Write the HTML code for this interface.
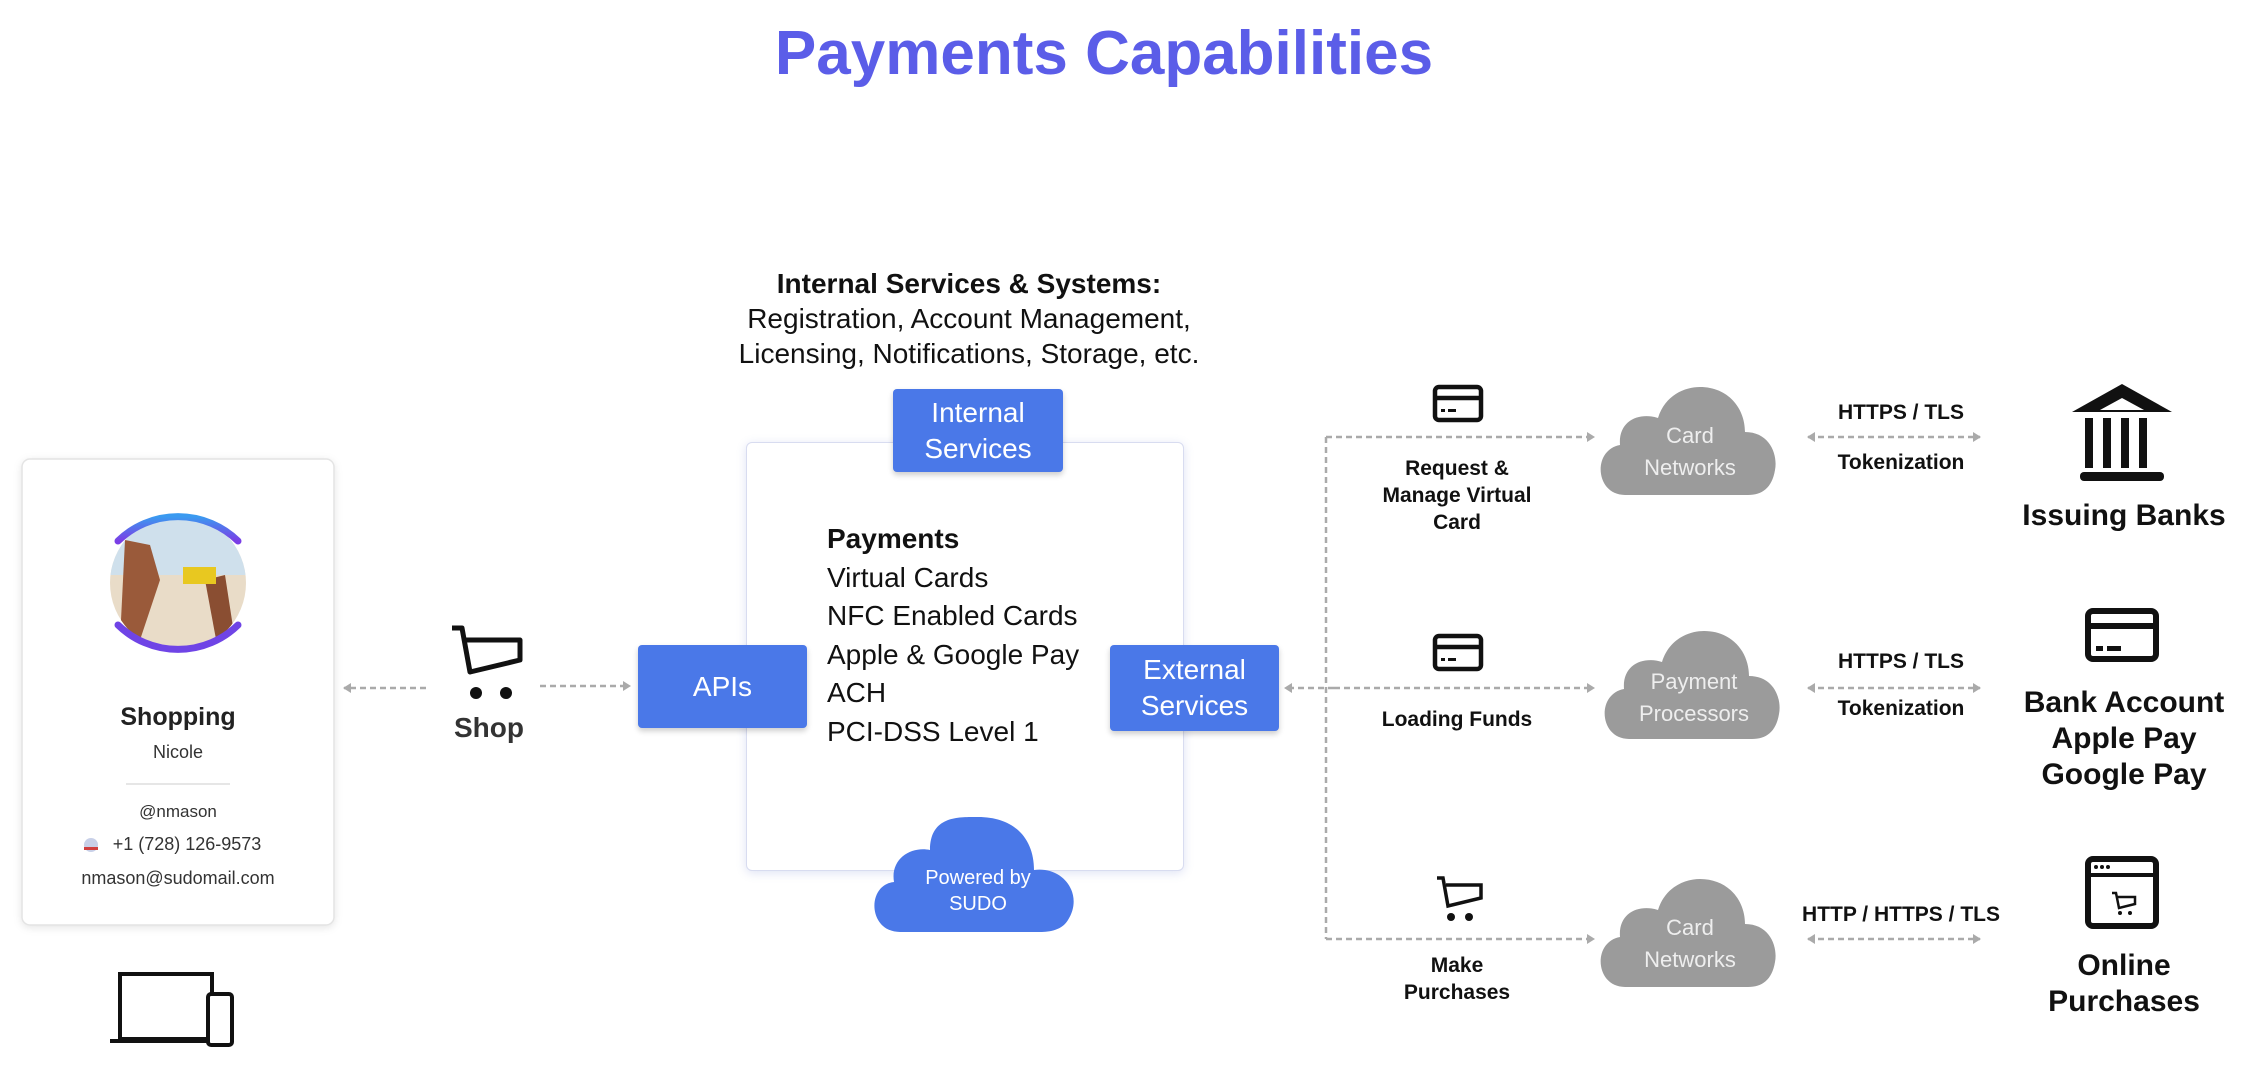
<!DOCTYPE html>
<html><head><meta charset="utf-8"><style>
body{margin:0;width:2248px;height:1084px;background:#fff;position:relative;overflow:hidden;font-family:"Liberation Sans",Arial,sans-serif;}
.a{position:absolute;}
.c{text-align:center;transform:translateX(-50%);white-space:nowrap;}
.box{position:absolute;background:#4a78e8;color:#fff;font-size:28px;display:flex;align-items:center;justify-content:center;text-align:center;line-height:36px;border-radius:4px;box-shadow:0 3px 6px rgba(0,0,0,.2);}
.lbl{position:absolute;font-weight:bold;font-size:21px;color:#111;text-align:center;transform:translateX(-50%);line-height:27px;white-space:nowrap;}
.rl{position:absolute;font-weight:bold;font-size:30px;color:#111;text-align:center;transform:translateX(-50%);line-height:36px;white-space:nowrap;}
</style></head><body>
<div class="a c" style="left:1104px;top:18px;font-size:62px;font-weight:bold;color:#5b5de8;">Payments Capabilities</div>

<div class="a c" style="left:969px;top:266px;font-size:28px;line-height:35px;color:#111;"><b>Internal Services &amp; Systems:</b><br>Registration, Account Management,<br>Licensing, Notifications, Storage, etc.</div>

<!-- main box -->
<div class="a" style="left:746px;top:442px;width:436px;height:427px;border:1px solid #d8dcf0;border-radius:6px;box-shadow:0 2px 10px rgba(90,110,200,.2);background:#fff;"></div>
<div class="box" style="left:893px;top:389px;width:170px;height:83px;">Internal<br>Services</div>
<div class="box" style="left:638px;top:645px;width:169px;height:83px;">APIs</div>
<div class="box" style="left:1110px;top:645px;width:169px;height:86px;">External<br>Services</div>
<div class="a" style="left:827px;top:520px;font-size:28px;line-height:38.5px;color:#111;"><b>Payments</b><br>Virtual Cards<br>NFC Enabled Cards<br>Apple &amp; Google Pay<br>ACH<br>PCI-DSS Level 1</div>

<svg class="a" style="left:0;top:0" width="2248" height="1084">
<defs>
<marker id="ah" markerWidth="10" markerHeight="10" refX="7" refY="5" orient="auto" markerUnits="userSpaceOnUse"><path d="M0,0 L8,5 L0,10z" fill="#aaa"/></marker>
<marker id="at" markerWidth="10" markerHeight="10" refX="1" refY="5" orient="auto" markerUnits="userSpaceOnUse"><path d="M8,0 L0,5 L8,10z" fill="#aaa"/></marker>
<linearGradient id="rg" x1="0" y1="0" x2="0" y2="1"><stop offset="0" stop-color="#3a9af0"/><stop offset="1" stop-color="#7a3ee6"/></linearGradient>
<clipPath id="cc"><circle cx="178" cy="583" r="68"/></clipPath>
</defs>
<g stroke="#aaa" stroke-width="2.5" stroke-dasharray="6,4" fill="none">
<line x1="426" y1="688" x2="344" y2="688" marker-end="url(#ah)"/>
<line x1="540" y1="686" x2="630" y2="686" marker-end="url(#ah)"/>
<line x1="1334" y1="688" x2="1285" y2="688" marker-end="url(#ah)"/>
<line x1="1326" y1="437" x2="1326" y2="939"/>
<line x1="1326" y1="437" x2="1594" y2="437" marker-end="url(#ah)"/>
<line x1="1334" y1="688" x2="1594" y2="688" marker-end="url(#ah)"/>
<line x1="1326" y1="939" x2="1594" y2="939" marker-end="url(#ah)"/>
<line x1="1808" y1="437" x2="1980" y2="437" marker-start="url(#at)" marker-end="url(#ah)"/>
<line x1="1808" y1="688" x2="1980" y2="688" marker-start="url(#at)" marker-end="url(#ah)"/>
<line x1="1808" y1="939" x2="1980" y2="939" marker-start="url(#at)" marker-end="url(#ah)"/>
</g>
<!-- left card -->
<rect x="22" y="459" width="312" height="466" rx="8" fill="#fff" stroke="#e4e4e4" stroke-width="1.5" style="filter:drop-shadow(0 2px 4px rgba(0,0,0,.1))"/>
<g clip-path="url(#cc)">
<rect x="100" y="510" width="160" height="150" fill="#e9dcc8"/>
<rect x="110" y="513" width="140" height="62" fill="#cfe0ec"/>
<path d="M125,540 L150,545 L160,580 L140,640 L120,640z" fill="#9a5a3a"/>
<path d="M205,580 L225,575 L235,640 L218,650z" fill="#8a4e32"/>
<rect x="183" y="567" width="33" height="17" fill="#e8c820"/>
</g>
<path d="M118,541 A86,86 0 0 1 238,541" stroke="url(#rg)" stroke-width="7" fill="none" stroke-linecap="round"/>
<path d="M118,625 A86,86 0 0 0 238,625" stroke="#6f44e6" stroke-width="7" fill="none" stroke-linecap="round"/>
<line x1="126" y1="784" x2="230" y2="784" stroke="#ddd" stroke-width="1.5"/>
<circle cx="91" cy="845" r="7" fill="#c8d0e8"/><path d="M84,847 h14 v3 h-14z" fill="#d04040"/>
<!-- laptop -->
<rect x="120" y="974" width="92" height="65" fill="none" stroke="#111" stroke-width="4"/>
<line x1="110" y1="1041" x2="214" y2="1041" stroke="#111" stroke-width="4"/>
<rect x="208" y="994" width="24" height="51" rx="3" fill="#fff" stroke="#111" stroke-width="4"/>
<!-- shop cart -->
<g fill="none" stroke="#111" stroke-width="5" stroke-linejoin="round">
<path d="M452,628 H462 L470,672 L520,660 V640 H466"/>
</g>
<circle cx="476" cy="693" r="6" fill="#111"/><circle cx="506" cy="693" r="6" fill="#111"/>
<!-- Powered by cloud -->
<path d="M900,932 C868,932 866,885 894,882 C890,858 912,846 930,850 C930,815 960,817 978,817 C1016,817 1034,840 1034,870 C1064,866 1084,895 1068,920 C1062,930 1050,932 1040,932z" fill="#4a78e8"/>
<!-- gray clouds -->
<g fill="#9b9b9b">
<path id="cl" d="M1625,495 C1595,495 1592,450 1620,445 C1618,420 1640,412 1658,418 C1665,395 1685,387 1700,387 C1728,387 1745,408 1745,432 C1770,432 1778,455 1775,470 C1772,488 1762,495 1748,495z"/>
<use href="#cl" transform="translate(4,244)"/>
<use href="#cl" transform="translate(0,492)"/>
</g>
<!-- card icons -->
<g fill="none" stroke="#111" stroke-width="4.5">
<rect x="1435" y="387" width="46" height="33" rx="4"/><line x1="1435" y1="398" x2="1481" y2="398"/>
<rect x="1435" y="636" width="46" height="33" rx="4"/><line x1="1435" y1="647" x2="1481" y2="647"/>
<rect x="2088" y="611" width="68" height="48" rx="5" stroke-width="6"/><line x1="2088" y1="626" x2="2156" y2="626" stroke-width="6"/>
<path d="M1437,878 H1443 L1448,906 L1481,898 V885 H1446" stroke-width="3.5"/>
<rect x="2088" y="859" width="68" height="67" rx="5" stroke-width="6"/><line x1="2088" y1="875" x2="2156" y2="875" stroke-width="4"/>
<path d="M2112,893 H2116 L2119,908 L2135,904 V897 H2117" stroke-width="2.5"/>
</g>
<g fill="#111">
<rect x="1441" y="409" width="4" height="3"/><rect x="1448" y="409" width="8" height="3"/>
<rect x="1441" y="658" width="4" height="3"/><rect x="1448" y="658" width="8" height="3"/>
<rect x="2096" y="646" width="7" height="5"/><rect x="2107" y="646" width="14" height="5"/>
<circle cx="1451" cy="917" r="4"/><circle cx="1469" cy="917" r="4"/>
<circle cx="2120" cy="913" r="2"/><circle cx="2130" cy="913" r="2"/>
<circle cx="2096" cy="867" r="2"/><circle cx="2102" cy="867" r="2"/><circle cx="2108" cy="867" r="2"/>
<!-- bank -->
<path d="M2122,384 L2172,412 H2072z"/>
<rect x="2085" y="418" width="8" height="50"/><rect x="2103" y="418" width="8" height="50"/><rect x="2121" y="418" width="8" height="50"/><rect x="2139" y="418" width="8" height="50"/>
<rect x="2080" y="472" width="84" height="9" rx="4"/>
</g>
<path d="M2122,398 L2144,410 H2100z" fill="#fff"/>
</svg>

<div class="a c" style="left:178px;top:703px;font-size:25px;font-weight:bold;color:#222;">Shopping</div>
<div class="a c" style="left:178px;top:742px;font-size:18px;color:#333;">Nicole</div>
<div class="a c" style="left:178px;top:802px;font-size:17px;color:#333;">@nmason</div>
<div class="a c" style="left:187px;top:834px;font-size:18px;color:#333;">+1 (728) 126-9573</div>
<div class="a c" style="left:178px;top:868px;font-size:18px;color:#333;">nmason@sudomail.com</div>
<div class="a c" style="left:489px;top:712px;font-size:28px;font-weight:bold;color:#333;">Shop</div>
<div class="a c" style="left:978px;top:865px;font-size:20px;color:#fff;line-height:26px;">Powered by<br>SUDO</div>

<div class="a c" style="left:1690px;top:420px;font-size:22px;color:#eee;line-height:32px;">Card<br>Networks</div>
<div class="a c" style="left:1694px;top:666px;font-size:22px;color:#eee;line-height:32px;">Payment<br>Processors</div>
<div class="a c" style="left:1690px;top:912px;font-size:22px;color:#eee;line-height:32px;">Card<br>Networks</div>

<div class="lbl" style="left:1457px;top:455px;">Request &amp;<br>Manage Virtual<br>Card</div>
<div class="lbl" style="left:1457px;top:706px;">Loading Funds</div>
<div class="lbl" style="left:1457px;top:952px;">Make<br>Purchases</div>

<div class="lbl" style="left:1901px;top:399px;">HTTPS / TLS</div>
<div class="lbl" style="left:1901px;top:449px;">Tokenization</div>
<div class="lbl" style="left:1901px;top:648px;">HTTPS / TLS</div>
<div class="lbl" style="left:1901px;top:695px;">Tokenization</div>
<div class="lbl" style="left:1901px;top:901px;">HTTP / HTTPS / TLS</div>

<div class="rl" style="left:2124px;top:498px;">Issuing Banks</div>
<div class="rl" style="left:2124px;top:685px;">Bank Account<br>Apple Pay<br>Google Pay</div>
<div class="rl" style="left:2124px;top:948px;">Online<br>Purchases</div>
</body></html>
